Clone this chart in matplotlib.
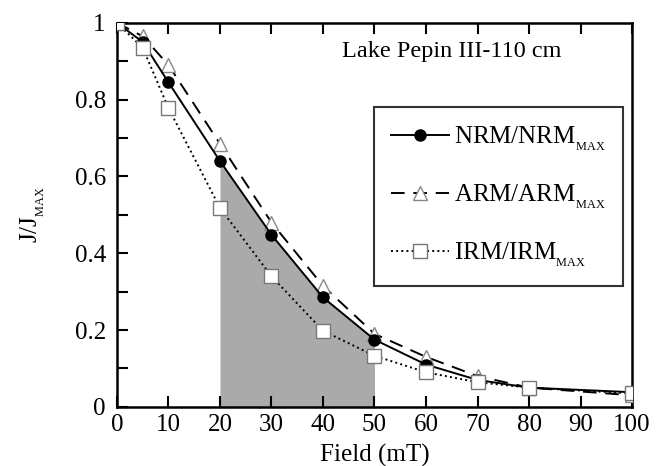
import numpy as np
import matplotlib
matplotlib.use('Agg')
from matplotlib import pyplot as plt

plt.rcParams['font.family'] = ['Liberation Serif', 'DejaVu Serif']
plt.rcParams['mathtext.fontset'] = 'custom'
plt.rcParams['mathtext.rm'] = 'Liberation Serif'

field_nrm = [0, 5, 10, 20, 30, 40, 50, 60, 70, 80, 100]
nrm = [1.0, 0.95, 0.845, 0.64, 0.448, 0.285, 0.175, 0.11, 0.07, 0.05, 0.038]
field_arm = [0, 5, 10, 20, 30, 40, 50, 60, 70, 80, 100]
arm = [1.0, 0.965, 0.89, 0.685, 0.48, 0.315, 0.19, 0.13, 0.08, 0.05, 0.03]
field_irm = [0, 5, 10, 20, 30, 40, 50, 60, 70, 80, 100]
irm = [1.0, 0.935, 0.778, 0.518, 0.34, 0.198, 0.133, 0.09, 0.064, 0.05, 0.035]
shade_lo, shade_hi = 20, 50

fig = plt.figure(figsize=(6.57, 4.66), dpi=100)
ax = fig.add_axes([0.178, 0.127, 0.784, 0.824])

fx = np.array(field_nrm)
fy = np.array(nrm)
m = (fx >= shade_lo) & (fx <= shade_hi)
ax.fill_between(fx[m], 0, fy[m], color='#aaaaaa', lw=0, zorder=1)

ax.plot(field_nrm, nrm, '-', color='black', lw=1.4, marker='o', ms=8,
        mfc='black', mec='black', label=r'NRM/NRM$_{_{\mathrm{MAX}}}$', zorder=4)
ax.plot(field_arm, arm, color='black', lw=1.4, dashes=(7, 4.5), marker='^', ms=9.5,
        mfc='white', mec='#888888', mew=1.0, label=r'ARM/ARM$_{_{\mathrm{MAX}}}$', zorder=3)
ax.plot(field_irm, irm, ':', color='black', lw=1.4, marker='s', ms=9.5,
        mfc='white', mec='#777777', mew=1.0, label=r'IRM/IRM$_{_{\mathrm{MAX}}}$', zorder=5)

ax.set_xlim(0, 100)
ax.set_ylim(0, 1)
ax.set_xticks(range(0, 101, 10))
ax.set_yticks([0, 0.2, 0.4, 0.6, 0.8, 1.0])
ax.set_yticklabels(['0', '0.2', '0.4', '0.6', '0.8', '1'])
ax.set_yticks(np.arange(0.1, 1.0, 0.2), minor=True)
ax.tick_params(axis='both', which='both', direction='in', width=1.5, labelsize=18)
ax.tick_params(axis='x', which='major', length=8, top=True, pad=5)
ax.tick_params(axis='y', which='major', length=8, pad=8)
ax.tick_params(axis='y', which='minor', length=8)
for s in ax.spines.values():
    s.set_linewidth(1.8)

ax.set_xlabel('Field (mT)', fontsize=18, labelpad=6)
ax.set_ylabel(r'J/J$_{_{\mathrm{MAX}}}$', fontsize=18, labelpad=20)

ax.text(0.437, 0.911, 'Lake Pepin III-110 cm', transform=ax.transAxes,
        fontsize=17.5, va='baseline')

leg = ax.legend(loc='upper left', bbox_to_anchor=(0.499, 0.781), fontsize=18,
                frameon=True, fancybox=False, edgecolor='black', handlelength=2.3,
                labelspacing=1.2, borderpad=0.7, handletextpad=0.2, borderaxespad=0)
leg.get_frame().set_linewidth(1.5)

fig.savefig('out.png', dpi=100)
